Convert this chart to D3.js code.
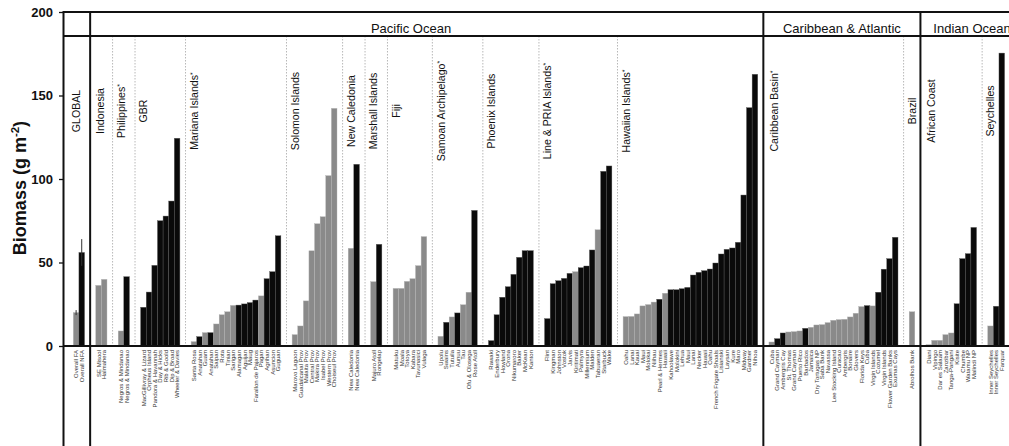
<!DOCTYPE html>
<html>
<head>
<meta charset="utf-8">
<script src="https://cdn.jsdelivr.net/npm/d3@7"></script>
<style>
  html, body { margin: 0; padding: 0; background: #fff; }
  svg { display: block; font-family: "Liberation Sans", Arial, sans-serif; }
</style>
</head>
<body>
<svg id="chart" width="1009" height="446"></svg>
<script>
// ---- Data -------------------------------------------------------------
// Ocean regions shown in the header band
const oceans = ["", "Pacific Ocean", "Caribbean & Atlantic", "Indian Ocean"];

// Site groups, the ocean each belongs to, and their sites
const groupNames = [
  "GLOBAL", "Indonesia", "Philippines*", "GBR", "Mariana Islands*",
  "Solomon Islands", "New Caledonia", "Marshall Islands", "Fiji",
  "Samoan Archipelago*", "Phoenix Islands", "Line & PRIA Islands*",
  "Hawaiian Islands*", "Caribbean Basin*", "Brazil", "African Coast", "Seychelles"
];
const groupOcean = [0, 1, 1, 1, 1, 1, 1, 1, 1, 1, 1, 1, 1, 2, 2, 3, 3];

const siteNames = [
  ["Overall FA", "Overall NFA"],
  ["SE Misool", "Halmahera"],
  ["Negros & Mindanao", "Negros & Mindanao"],
  ["MacGillivray & Lizard", "Orpheus Island", "Pandora & Havannah", "Day & Hicks", "Rib & Goold", "Dip & Broad", "Wheeler & Davies"],
  ["Santa Rosa", "Anatahan", "Guam", "Anatahan", "Saipan", "Rota", "Tinian", "Sarigan", "Alamagan", "Aguijan", "Maug", "Farallon de Pajaros", "Pagan", "Agrihan", "Asuncion", "Guguan"],
  ["Marovo Lagoon", "Guadalcanal Prov", "Malaita Prov", "Central Prov", "Makira Prov", "Isabel Prov", "Western Prov", "Choiseul Prov"],
  ["New Caledonia", "New Caledonia"],
  ["Majuro Atoll", "Rongelap"],
  ["Matuku", "Moala", "Totoya", "Kabara", "Tavunasici", "Vulaga"],
  ["Upolu", "Swains", "Tutuila", "Aunuu", "Tau", "Ofu & Olosega", "Rose Atoll"],
  ["Rawaki", "Enderbury", "Howland", "Orona", "Nikumaroro", "Baker", "McKean", "Kanton"],
  ["Flint", "Kingman", "Johnston", "Vostok", "Jarvis", "Kiritimati", "Palmyra", "Millennium", "Malden", "Tabuaeran", "Starbuck", "Wake"],
  ["Oahu", "Lanai", "Kauai", "Maui", "Molokai", "Niihau", "Pearl & Hermes", "Hawaii", "Kahoolawe", "Molokini", "Lehua", "Maui", "Lanai", "Necker", "Hawaii", "Oahu", "French Frigate Shoals", "Lisianski", "Laysan", "Kure", "Maro", "Midway", "Gardner", "Nihoa"],
  ["Cuba", "Grand Cayman", "Ambergris Cay", "St. Thomas", "Grand Cayman", "Puerto Rico", "Barbados", "Jamaica", "Dry Tortugas NP", "Saba Bank", "Navassa", "Lee Stocking Island", "Curacao", "Ambergris", "Bonaire", "Glovers", "Florida Keys", "Cuba", "Virgin Islands", "Cozumel", "Virgin Islands", "Flower Garden Banks", "Exumas Cays"],
  ["Abrolhos Bank"],
  ["Diani", "Vipingo", "Dar es Salaam", "Zanzibar", "Tanga-Pangani", "Kisite", "Chumbe", "Watamu NP", "Malindi NP"],
  ["Inner Seychelles", "Inner Seychelles", "Farquar"]
];

// Fish biomass (g m^-2) per site
const biomass = [
  [20, 56],
  [36.3, 39.9],
  [9, 41.5],
  [23.2, 32.3, 48.3, 75, 77.8, 86.8, 124.4],
  [2.6, 5.6, 8, 8, 13.2, 18.7, 20.5, 24.3, 24.5, 25.2, 26, 27.5, 30, 40.3, 44.5, 66],
  [6.8, 12, 27, 57, 73.2, 77.4, 102, 142.3],
  [58.5, 108.8],
  [38.5, 60.9],
  [34.5, 34.5, 38.7, 40.3, 48.1, 65.5],
  [5.8, 14.2, 17.4, 19.8, 24.7, 32.2, 81.2],
  [3.2, 18.7, 29.2, 35.5, 42.9, 53.1, 57.1, 57.1],
  [16.4, 37.3, 39.1, 40.5, 43.5, 44.5, 46.9, 47.9, 57.5, 69.6, 104.6, 107.8],
  [17.6, 17.7, 19.2, 24, 24.8, 26.3, 28, 31.6, 33.7, 33.7, 34.3, 35.1, 42.5, 44.1, 45.1, 46.1, 49.7, 55.1, 57.9, 58.7, 62.1, 90.4, 142.7, 162.7],
  [2.4, 4.4, 7.8, 8.4, 8.6, 9, 10.6, 11.2, 12.6, 12.8, 14, 15.4, 15.8, 16, 17.4, 19.6, 23.6, 24.2, 24, 32.2, 46, 52.3, 65.1],
  [20.5],
  [0.8, 3.4, 3.4, 6.8, 7.8, 25.3, 52.3, 55.3, 71],
  [12, 23.8, 175.4]
];

// F = fished area, N = no-fishing area (one letter per site)
const protection = [
  "FN", "FF", "FN", "NNNNNNN", "FNFNFFFFNNNNFNNN", "FFFFFFFF", "FN", "FN",
  "FFFFFF", "FNFNFFN", "NNNNNNNN", "NNNNNFNNNFNN", "FFFFFFNFNNNNNNNNNNNNNNNN",
  "FNNFFFNFFFFFFFFFFNFNNNN", "F", "FFFFFNNNN", "FNN"
];

// Error (± g m^-2) for the global means
const globalError = [1.5, 8];

const yTicks = [0, 50, 100, 150, 200];

// ---- Layout -----------------------------------------------------------
const svg = d3.select("#chart");
const W = 1009, H = 446;
const slotGap = 2;                 // empty slots between groups
const headerBand = 24;             // px height of the ocean header band

// Assign each site a slot along the x axis
const sites = [];
const groups = [];
let slot = 0;
groupNames.forEach((g, gi) => {
  const start = slot;
  siteNames[gi].forEach((name, i) => {
    sites.push({
      name, group: gi, slot,
      value: biomass[gi][i],
      fished: protection[gi][i] === "F",
      err: gi === 0 ? globalError[i] : null
    });
    slot += 1;
  });
  groups.push({ name: g, ocean: groupOcean[gi], start, end: slot });
  slot += slotGap;
});
const lastSlot = slot - slotGap;

const x = d3.scaleLinear().domain([-1.75, lastSlot + 1.75]).range([63.5, 63.5 + (lastSlot + 3.5) * 5.61]);
const y = d3.scaleLinear().domain([0, 200]).range([346, 12]);
const slotW = x(1) - x(0);

const plotLeft = x(-1.75);
const plotRight = x(lastSlot + 1.75);
const plotTop = y(200);
const bandBottom = plotTop + headerBand;
const base = y(0);

// Ocean extents (separator lines sit in the middle of the gap)
const oceanSpans = oceans.map((o, oi) => {
  const gs = groups.filter(g => g.ocean === oi);
  const first = gs[0].start, last = gs[gs.length - 1].end;
  return {
    name: o,
    left: oi === 0 ? plotLeft : x(first - 1),
    right: oi === oceans.length - 1 ? plotRight : x(last + 1)
  };
});

// ---- Bars -------------------------------------------------------------
svg.append("g").selectAll("rect")
  .data(sites)
  .join("rect")
  .attr("x", d => x(d.slot))
  .attr("y", d => y(d.value))
  .attr("width", slotW)
  .attr("height", d => base - y(d.value))
  .attr("fill", d => d.fished ? "#8a8a8a" : "#0a0a0a")
  .attr("stroke", d => d.fished ? "#b4b4b4" : "#5a5a5a")
  .attr("stroke-width", 0.4);

// Error bars on the global means
svg.append("g").selectAll("line")
  .data(sites.filter(d => d.err != null))
  .join("line")
  .attr("x1", d => x(d.slot + 0.5))
  .attr("x2", d => x(d.slot + 0.5))
  .attr("y1", d => y(d.value - d.err))
  .attr("y2", d => y(d.value + d.err))
  .attr("stroke", "#333")
  .attr("stroke-width", 1);

// ---- Dotted separators between groups inside an ocean -----------------
const innerSeps = groups.filter((g, i) => i > 0 && groups[i - 1].ocean === g.ocean);
svg.append("g").selectAll("line")
  .data(innerSeps)
  .join("line")
  .attr("x1", d => x(d.start - 1))
  .attr("x2", d => x(d.start - 1))
  .attr("y1", bandBottom)
  .attr("y2", base)
  .attr("stroke", "#b8b8b8")
  .attr("stroke-width", 1)
  .attr("stroke-dasharray", "1.5,1.5");

// ---- Frame: header band, ocean separators, baseline --------------------
const frame = svg.append("g").attr("stroke", "#111").attr("stroke-width", 2).attr("fill", "none");
frame.append("line").attr("x1", plotLeft).attr("x2", W + 10).attr("y1", plotTop).attr("y2", plotTop);
frame.append("line").attr("x1", plotLeft).attr("x2", W + 10).attr("y1", bandBottom).attr("y2", bandBottom);
frame.append("line").attr("x1", plotLeft).attr("x2", W + 10).attr("y1", base).attr("y2", base);
frame.selectAll(".sep")
  .data(oceanSpans.slice(1))
  .join("line")
  .attr("x1", d => d.left).attr("x2", d => d.left)
  .attr("y1", plotTop).attr("y2", H + 5);

// Ocean titles in the header band
const titleCenter = { "Pacific Ocean": x(60.2), "Indian Ocean": x(160.2) };
svg.append("g").selectAll("text")
  .data(oceanSpans.filter(d => d.name))
  .join("text")
  .attr("x", d => titleCenter[d.name] != null ? titleCenter[d.name] : (d.left + d.right) / 2)
  .attr("y", plotTop + 21)
  .attr("text-anchor", "middle")
  .attr("font-size", 13)
  .attr("fill", "#111")
  .text(d => d.name);

// ---- Y axis -----------------------------------------------------------
const yAxis = svg.append("g")
  .attr("transform", `translate(${plotLeft},0)`)
  .call(d3.axisLeft(y).tickValues(yTicks).tickSize(4.5).tickPadding(6).tickFormat(d3.format("d")));
yAxis.select(".domain").remove();
yAxis.append("line").attr("x1", 0).attr("x2", 0).attr("y1", plotTop - 1).attr("y2", H + 5)
  .attr("stroke", "#111").attr("stroke-width", 2);
yAxis.selectAll(".tick line").attr("stroke", "#111").attr("stroke-width", 1.3);
yAxis.selectAll(".tick text")
  .attr("font-family", "'Liberation Sans', Arial, sans-serif")
  .attr("font-size", 13).attr("font-weight", "bold").attr("fill", "#111");

const yTitle = svg.append("text")
  .attr("transform", `translate(26,188) rotate(-90)`)
  .attr("text-anchor", "middle")
  .attr("font-size", 18)
  .attr("font-weight", "bold")
  .attr("fill", "#111");
yTitle.append("tspan").text("Biomass (g m");
yTitle.append("tspan").attr("font-size", 11.5).attr("dy", -7.5).text("-2");
yTitle.append("tspan").attr("dy", 7.5).text(")");

// ---- Group labels (rotated, centred vertically in the panel) ----------
const groupLabel = svg.append("g").selectAll("text")
  .data(groups)
  .join("text")
  .attr("transform", d => {
    const oceanLeft = oceanSpans[d.ocean].left;
    let cx = x(d.start + 0.5);
    if (groups.find(g => g.ocean === d.ocean) === d) cx = Math.max(cx, oceanLeft + 10.5);
    return `translate(${cx},111) rotate(-90)`;
  })
  .attr("text-anchor", "middle")
  .attr("dy", "0.36em")
  .attr("font-size", 10.6)
  .attr("fill", "#111");
groupLabel.each(function (d) {
  const t = d3.select(this);
  const star = d.name.endsWith("*");
  t.append("tspan").text(star ? d.name.slice(0, -1) : d.name);
  if (star) t.append("tspan").attr("font-size", 7).attr("baseline-shift", "40%").text("*");
});

// ---- Site labels under the baseline ------------------------------------
svg.append("g").selectAll("text")
  .data(sites)
  .join("text")
  .attr("transform", d => `translate(${x(d.slot + 0.5)},${base + 4}) rotate(-90)`)
  .attr("text-anchor", "end")
  .attr("dy", "0.35em")
  .attr("font-size", 6)
  .attr("fill", "#333")
  .text(d => d.name);
</script>
</body>
</html>
